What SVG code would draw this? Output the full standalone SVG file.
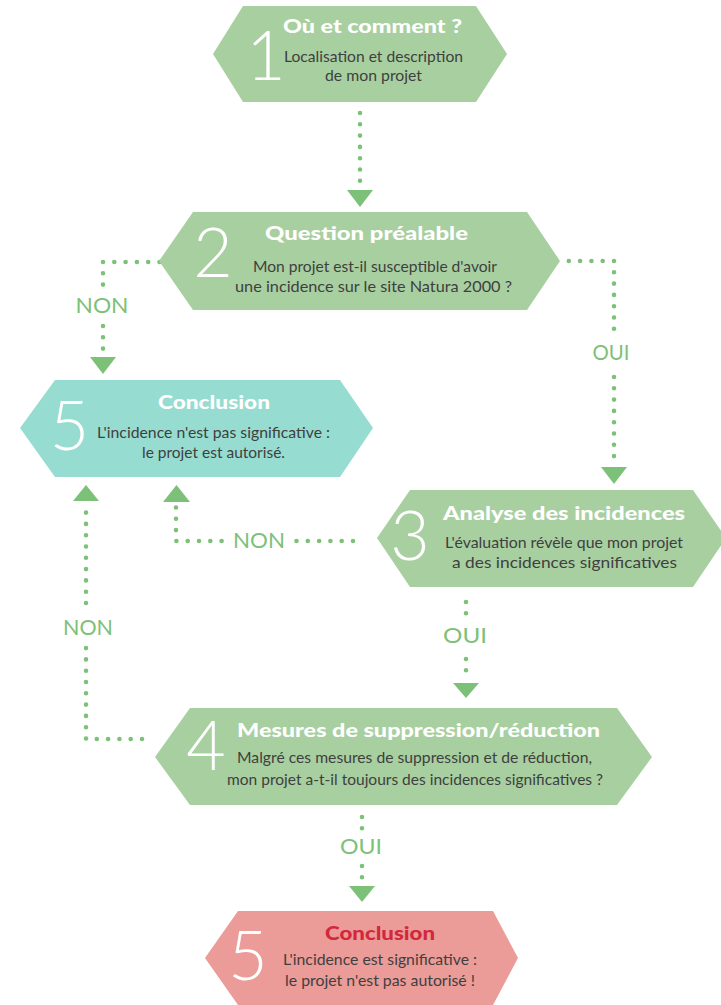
<svg xmlns="http://www.w3.org/2000/svg" width="721" height="1005" viewBox="0 0 721 1005">
<style>
.hg{fill:#a8cfa0}
.ht{fill:#96dcd0}
.hr{fill:#eb9b98}
.num{font-family:Lato,"Open Sans",sans-serif;font-weight:300;font-size:68px;fill:#ffffff;text-anchor:middle}
.tt{font-family:Lato,"Open Sans",sans-serif;font-weight:900;font-size:19px;fill:#ffffff;text-anchor:middle}
.ttr{fill:#d2283c}
.st{font-family:Lato,"Open Sans",sans-serif;font-weight:400;font-size:15px;fill:#3f3f3f;text-anchor:middle}
.lb{font-family:Lato,"Open Sans",sans-serif;font-weight:400;font-size:21px;fill:#7dc178;text-anchor:middle}
.dots{fill:none;stroke:#7dc178;stroke-width:4.6;stroke-linecap:round;stroke-dasharray:0 11.3}
.ah{fill:#7dc178}
</style>
<rect width="721" height="1005" fill="#ffffff"/>
<g id="connectors">
<path class="dots" d="M360 113 V181.1"/>
<polygon class="ah" points="347,190 373,190 360,207"/>
<path class="dots" d="M159.5 262 H103 V284.9"/>
<path class="dots" d="M103 326 V348.9"/>
<polygon class="ah" points="90,357 116,357 103,374"/>
<text class="lb" x="102" y="313" textLength="53" lengthAdjust="spacingAndGlyphs">NON</text>
<path class="dots" d="M568.8 261 H614 V329.1"/>
<path class="dots" d="M614 377 V456.4"/>
<polygon class="ah" points="601,467 627,467 614,484"/>
<text class="lb" x="611" y="360" textLength="37" lengthAdjust="spacingAndGlyphs">OUI</text>
<path class="dots" d="M353 541 H295"/>
<path class="dots" d="M221.6 541 H176 V507.2"/>
<polygon class="ah" points="176.5,485 190,502 163,502"/>
<text class="lb" x="259" y="548" textLength="52" lengthAdjust="spacingAndGlyphs">NON</text>
<path class="dots" d="M466 602 V613.6"/>
<path class="dots" d="M466 659 V670.6"/>
<polygon class="ah" points="453,683 479,683 466,698"/>
<text class="lb" x="465" y="643" textLength="44" lengthAdjust="spacingAndGlyphs">OUI</text>
<path class="dots" d="M142 739 H86 V647.7"/>
<path class="dots" d="M86 603 V511"/>
<polygon class="ah" points="86,485 99,501 73,501"/>
<text class="lb" x="88" y="635" textLength="50" lengthAdjust="spacingAndGlyphs">NON</text>
<path class="dots" d="M362 817 V828.6"/>
<path class="dots" d="M362 866 V877.6"/>
<polygon class="ah" points="349,886 375,886 362,902"/>
<text class="lb" x="361" y="854" textLength="42" lengthAdjust="spacingAndGlyphs">OUI</text>
</g>
<g id="node1">
<polygon class="hg" points="213,54 243,6 476,6 507,54 476,102 243,102"/>
<text class="num" x="266" y="80">1</text>
<text class="tt" x="372.5" y="33" textLength="179" lengthAdjust="spacingAndGlyphs">Où et comment ?</text>
<text class="st" x="373.5" y="62" textLength="179" lengthAdjust="spacingAndGlyphs">Localisation et description</text>
<text class="st" x="373.5" y="81" textLength="97" lengthAdjust="spacingAndGlyphs">de mon projet</text>
</g>
<g id="node2">
<polygon class="hg" points="159,261 193,212 527,212 560,261 527,310 193,310"/>
<text class="num" x="213" y="277">2</text>
<text class="tt" x="366.5" y="240" textLength="203" lengthAdjust="spacingAndGlyphs">Question préalable</text>
<text class="st" x="375" y="272" textLength="244" lengthAdjust="spacingAndGlyphs">Mon projet est-il susceptible d'avoir</text>
<text class="st" x="373.5" y="292" textLength="277" lengthAdjust="spacingAndGlyphs">une incidence sur le site Natura 2000 ?</text>
</g>
<g id="node5a">
<polygon class="ht" points="20,428 55,380 340,380 373,428 340,477 55,477"/>
<text class="num" x="69.5" y="450">5</text>
<text class="tt" x="214" y="409" textLength="112" lengthAdjust="spacingAndGlyphs">Conclusion</text>
<text class="st" x="213.5" y="438" textLength="233" lengthAdjust="spacingAndGlyphs">L'incidence n'est pas significative :</text>
<text class="st" x="213.5" y="458" textLength="143" lengthAdjust="spacingAndGlyphs">le projet est autorisé.</text>
</g>
<g id="node3">
<polygon class="hg" points="377,538 410,490 693,490 726,538 693,587 410,587"/>
<text class="num" x="410" y="560">3</text>
<text class="tt" x="564" y="520" textLength="242" lengthAdjust="spacingAndGlyphs">Analyse des incidences</text>
<text class="st" x="564" y="548" textLength="238" lengthAdjust="spacingAndGlyphs">L'évaluation révèle que mon projet</text>
<text class="st" x="564.5" y="568" textLength="225" lengthAdjust="spacingAndGlyphs">a des incidences significatives</text>
</g>
<g id="node4">
<polygon class="hg" points="155,757 190,708 617,708 652,757 617,805 190,805"/>
<text class="num" x="206" y="770">4</text>
<text class="tt" x="418.5" y="737" textLength="363" lengthAdjust="spacingAndGlyphs">Mesures de suppression/réduction</text>
<text class="st" x="414.5" y="763" textLength="355" lengthAdjust="spacingAndGlyphs">Malgré ces mesures de suppression et de réduction,</text>
<text class="st" x="415" y="785" textLength="376" lengthAdjust="spacingAndGlyphs">mon projet a-t-il toujours des incidences significatives ?</text>
</g>
<g id="node5b">
<polygon class="hr" points="205,958 238,911 493,911 518,958 493,1005 238,1005"/>
<text class="num" x="248" y="980">5</text>
<text class="tt ttr" x="380" y="940" textLength="110" lengthAdjust="spacingAndGlyphs">Conclusion</text>
<text class="st" x="380" y="965" textLength="194" lengthAdjust="spacingAndGlyphs">L'incidence est significative :</text>
<text class="st" x="380" y="986" textLength="190" lengthAdjust="spacingAndGlyphs">le projet n'est pas autorisé !</text>
</g>
</svg>
